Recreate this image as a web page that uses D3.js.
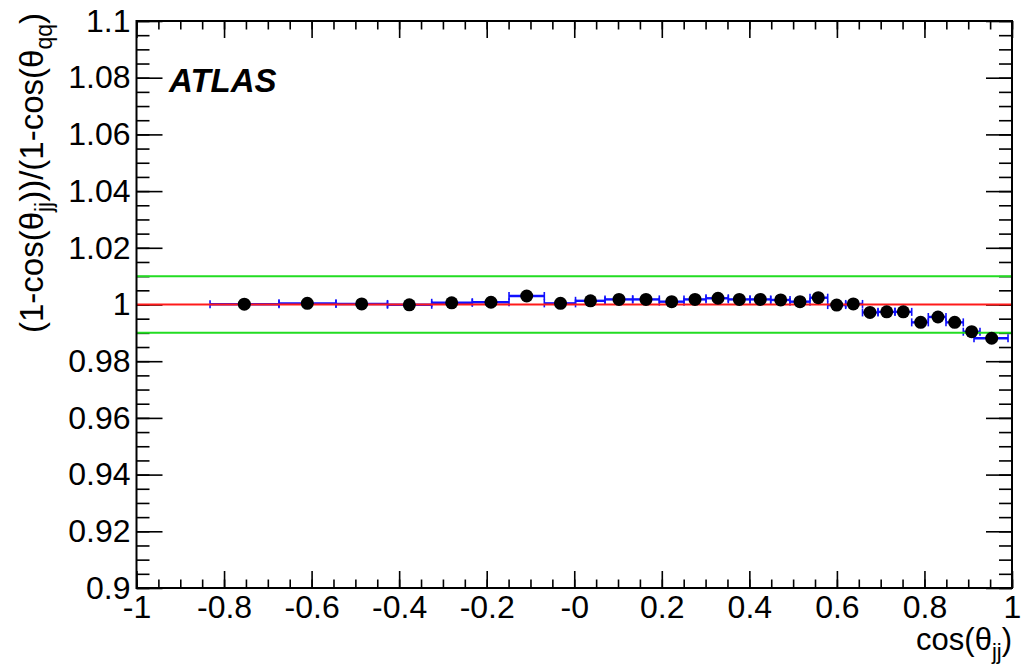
<!DOCTYPE html>
<html>
<head>
<meta charset="utf-8">
<script src="https://cdn.jsdelivr.net/npm/d3@7"></script>
<style>
  html, body { margin: 0; padding: 0; background: #fff; }
  svg { display: block; }
  text { font-family: "Liberation Sans", Arial, Helvetica, sans-serif; }
</style>
</head>
<body>
<svg id="chart" width="1023" height="668"></svg>
<script>
// ---------------- data ----------------
const binLo = [-0.832, -0.6745, -0.5443, -0.4266, -0.3256, -0.2329, -0.149, -0.0684, 0.0029, 0.0703,
  0.1335, 0.1943, 0.2507, 0.301, 0.3519, 0.4015, 0.4488, 0.4929, 0.5386, 0.579,
  0.6201, 0.6585, 0.6939, 0.7327, 0.7709, 0.8088, 0.8492, 0.8887, 0.9132];
const binHi = [-0.6745, -0.5443, -0.4266, -0.3256, -0.2329, -0.149, -0.0684, 0.0029, 0.0703, 0.1335,
  0.1943, 0.2507, 0.301, 0.3519, 0.4015, 0.4488, 0.4929, 0.5386, 0.579, 0.6201,
  0.6585, 0.6939, 0.7327, 0.7709, 0.8088, 0.8492, 0.8887, 0.9269, 0.9909];
const xMean = [-0.7537, -0.6098, -0.4856, -0.3768, -0.28, -0.1902, -0.1086, -0.0314, 0.0371, 0.1022,
  0.1639, 0.2226, 0.2759, 0.3284, 0.3771, 0.425, 0.4716, 0.5157, 0.5575, 0.5995,
  0.6375, 0.6756, 0.7138, 0.7517, 0.7914, 0.8309, 0.8691, 0.9079, 0.9536];
const ratio = [1.0001, 1.0004, 1.0002, 0.9999, 1.0006, 1.0008, 1.0030, 1.0004, 1.0013, 1.0018,
  1.0018, 1.0010, 1.0018, 1.0022, 1.0018, 1.0018, 1.0016, 1.0010, 1.0024, 0.9998,
  1.0002, 0.9972, 0.9974, 0.9974, 0.9937, 0.9956, 0.9937, 0.9904, 0.9881];
const refLine = [1.0];
const bandLines = [1.01, 0.99];
const xTickValues = [-1, -0.8, -0.6, -0.4, -0.2, 0, 0.2, 0.4, 0.6, 0.8, 1];
const xTickLabels = ["-1", "-0.8", "-0.6", "-0.4", "-0.2", "-0", "0.2", "0.4", "0.6", "0.8", "1"];
const yTickValues = [0.9, 0.92, 0.94, 0.96, 0.98, 1.0, 1.02, 1.04, 1.06, 1.08, 1.1];
const yTickLabels = ["0.9", "0.92", "0.94", "0.96", "0.98", "1", "1.02", "1.04", "1.06", "1.08", "1.1"];

// ---------------- layout ----------------
const L = 136.5, R = 1012, T = 21, B = 588;
const svg = d3.select("#chart");
const x = d3.scaleLinear().domain([-1, 1]).range([L, R]);
const y = d3.scaleLinear().domain([0.9, 1.1]).range([B, T]);

const xMinor = d3.range(-1, 1.0001, 0.05).map(v => +v.toFixed(3));
const yMinor = d3.range(0.9, 1.1001, 0.005).map(v => +v.toFixed(4));

function styleAxis(g) {
  g.select(".domain").remove();
  g.selectAll("line").attr("stroke", "#000").attr("stroke-width", 1.6);
  g.selectAll("text").attr("fill", "#000").style("font-size", "32px")
    .style("font-family", '"Liberation Sans", Arial, Helvetica, sans-serif');
}

// bottom axis
svg.append("g").attr("transform", `translate(0,${B})`)
  .call(d3.axisBottom(x).tickValues(xMinor).tickSize(-8.5).tickFormat(""))
  .call(styleAxis);
svg.append("g").attr("transform", `translate(0,${B})`)
  .call(d3.axisBottom(x).tickValues(xTickValues).tickSize(-17).tickPadding(7)
    .tickFormat((d, i) => xTickLabels[i]))
  .call(styleAxis);
// top axis
svg.append("g").attr("transform", `translate(0,${T})`)
  .call(d3.axisTop(x).tickValues(xMinor).tickSize(-8.5).tickFormat(""))
  .call(styleAxis);
svg.append("g").attr("transform", `translate(0,${T})`)
  .call(d3.axisTop(x).tickValues(xTickValues).tickSize(-17).tickFormat(""))
  .call(styleAxis);
// left axis
svg.append("g").attr("transform", `translate(${L},0)`)
  .call(d3.axisLeft(y).tickValues(yMinor).tickSize(-13).tickFormat(""))
  .call(styleAxis);
svg.append("g").attr("transform", `translate(${L},0)`)
  .call(d3.axisLeft(y).tickValues(yTickValues).tickSize(-26).tickPadding(6)
    .tickFormat((d, i) => yTickLabels[i]))
  .call(styleAxis);
// right axis
svg.append("g").attr("transform", `translate(${R},0)`)
  .call(d3.axisRight(y).tickValues(yMinor).tickSize(-13).tickFormat(""))
  .call(styleAxis);
svg.append("g").attr("transform", `translate(${R},0)`)
  .call(d3.axisRight(y).tickValues(yTickValues).tickSize(-26).tickFormat(""))
  .call(styleAxis);

// ---------------- marks ----------------
const data = xMean.map((v, i) => ({ xm: v, lo: binLo[i], hi: binHi[i], r: ratio[i] }));

const plot = svg.append("g");

// blue horizontal bin bars
const bars = plot.append("g").attr("stroke", "#1010ff").attr("stroke-width", 2.4);
bars.selectAll("line.h").data(data).join("line").attr("class", "h")
  .attr("x1", d => x(d.lo)).attr("x2", d => x(d.hi))
  .attr("y1", d => y(d.r)).attr("y2", d => y(d.r));
bars.selectAll("line.cl").data(data).join("line").attr("class", "cl")
  .attr("x1", d => x(d.lo)).attr("x2", d => x(d.lo))
  .attr("y1", d => y(d.r) - 4).attr("y2", d => y(d.r) + 4).attr("stroke-width", 1.6);
bars.selectAll("line.cr").data(data).join("line").attr("class", "cr")
  .attr("x1", d => x(d.hi)).attr("x2", d => x(d.hi))
  .attr("y1", d => y(d.r) - 4).attr("y2", d => y(d.r) + 4).attr("stroke-width", 1.6);

// reference lines
plot.selectAll("line.band").data(bandLines).join("line").attr("class", "band")
  .attr("x1", x(-1)).attr("x2", x(1))
  .attr("y1", d => y(d)).attr("y2", d => y(d))
  .attr("stroke", "#22dd22").attr("stroke-width", 2);
plot.selectAll("line.ref").data(refLine).join("line").attr("class", "ref")
  .attr("x1", x(-1)).attr("x2", x(1))
  .attr("y1", d => y(d)).attr("y2", d => y(d))
  .attr("stroke", "#ff1a1a").attr("stroke-width", 2);

// points
plot.selectAll("circle").data(data).join("circle")
  .attr("cx", d => x(d.xm)).attr("cy", d => y(d.r)).attr("r", 6.5)
  .attr("fill", "#000");

// frame
svg.append("rect").attr("x", L).attr("y", T).attr("width", R - L).attr("height", B - T)
  .attr("fill", "none").attr("stroke", "#000").attr("stroke-width", 2);

// ---------------- texts ----------------
svg.append("text").attr("x", 169).attr("y", 92)
  .style("font-size", "33px").style("font-weight", "bold").style("font-style", "italic")
  .text("ATLAS");

// x title
const xt = svg.append("text").attr("x", R).attr("y", 650).attr("text-anchor", "end")
  .style("font-size", "31px");
xt.append("tspan").text("cos(θ");
xt.append("tspan").attr("dy", 9).style("font-size", "22px").text("jj");
xt.append("tspan").attr("dy", -9).text(")");

// y title
const yt = svg.append("text").attr("transform", "translate(43,13) rotate(-90)")
  .attr("text-anchor", "end").style("font-size", "33px");
yt.append("tspan").text("(1-cos(θ");
yt.append("tspan").attr("dy", 9).style("font-size", "23px").text("jj");
yt.append("tspan").attr("dy", -9).text("))/(1-cos(θ");
yt.append("tspan").attr("dy", 9).style("font-size", "23px").text("qq");
yt.append("tspan").attr("dy", -9).text(")");
</script>
</body>
</html>
